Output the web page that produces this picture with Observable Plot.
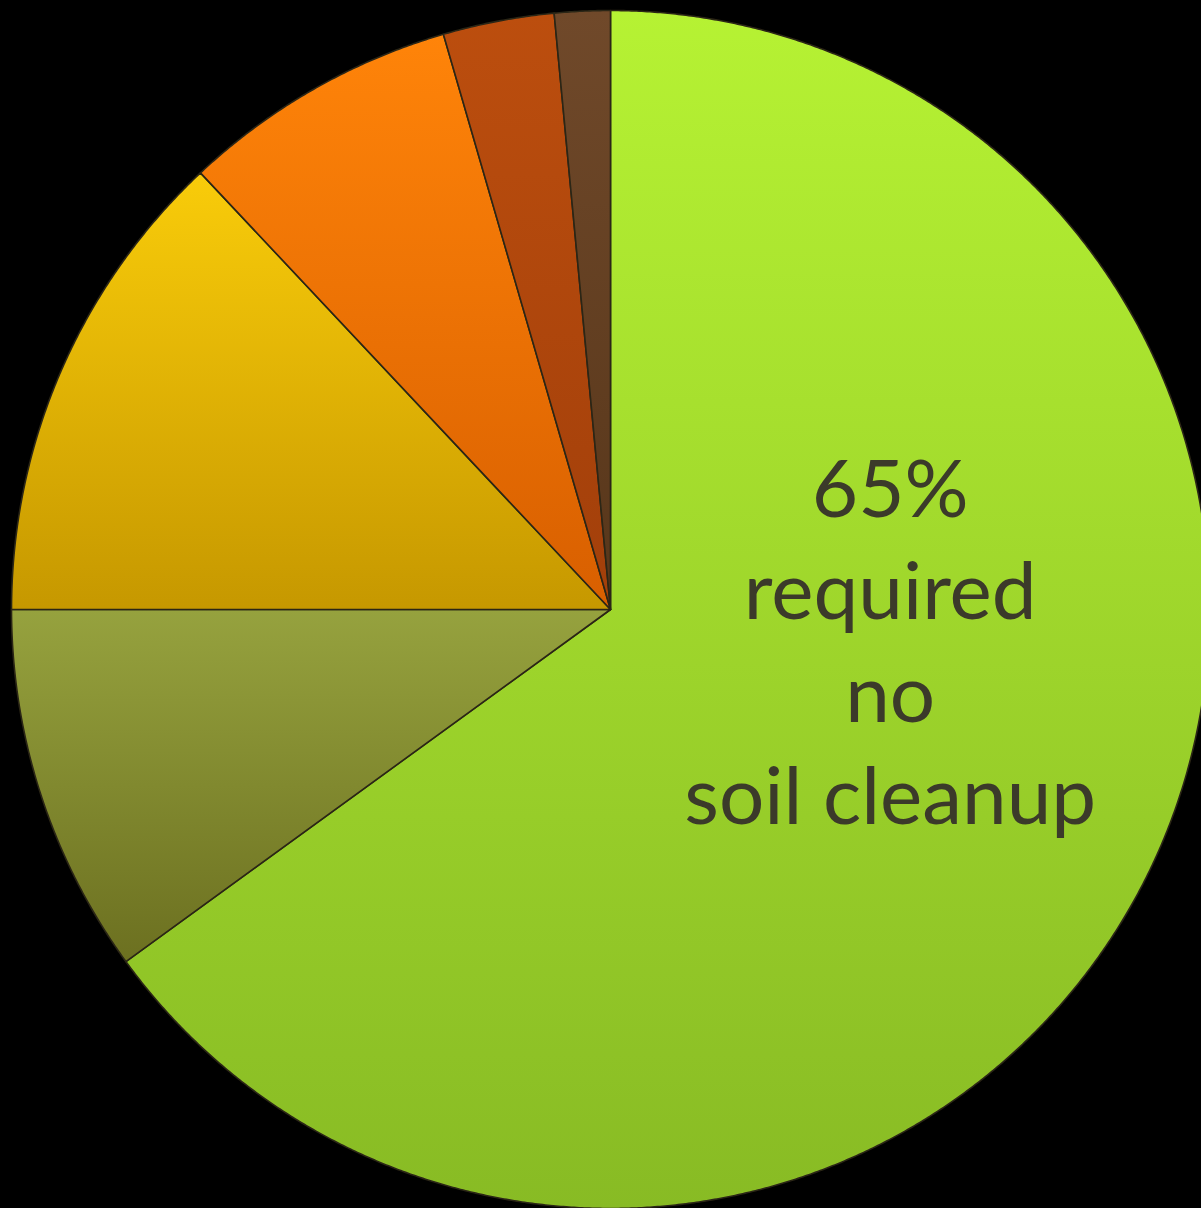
<!DOCTYPE html>
<html>
<head>
<meta charset="utf-8">
<script src="https://cdn.jsdelivr.net/npm/d3@7"></script>
<script src="https://cdn.jsdelivr.net/npm/@observablehq/plot@0.6"></script>
<style>
  html, body { margin: 0; padding: 0; background: #000; }
  #chart svg { display: block; }
</style>
</head>
<body>
<div id="chart"></div>
<script>
// Slices, clockwise from 12 o'clock
const categories = ["No soil cleanup", "Slice 2", "Slice 3", "Slice 4", "Slice 5", "Slice 6"];
const values = [65, 10, 13, 7.5, 3, 1.5];
const topColors = ["#b6f233", "#96a23e", "#f9cc0a", "#ff8409", "#bc4e0e", "#70492a"];
const bottomColors = ["#88bb24", "#6c7020", "#c69800", "#d85f00", "#a23f0a", "#57361a"];
const labelText = "65%\nrequired\nno\nsoil cleanup";

// Build pie geometry from the data (angles in radians, clockwise from north)
const pie = d3.pie().sort(null).value(d => d.value);
const rows = categories.map((c, i) => ({category: c, value: values[i], i}));
const arcs = pie(rows);
const pts = [];
for (const a of arcs) {
  const id = `url(#grad${a.data.i})`;
  pts.push({k: a.data.category, fill: id, x: 0, y: 0});
  const n = Math.max(4, Math.ceil((a.endAngle - a.startAngle) / (Math.PI / 720)));
  for (let j = 0; j <= n; j++) {
    const t = a.startAngle + (a.endAngle - a.startAngle) * j / n;
    pts.push({k: a.data.category, fill: id, x: Math.sin(t), y: Math.cos(t)});
  }
  pts.push({k: a.data.category, fill: id, x: 0, y: 0});
}

// Label placed inside the big slice
const labels = [{x: 0.467, y: -0.047, text: labelText}];

const W = 1201, H = 1208, cx = 610, cy = 609, R = 599;
const chart = Plot.plot({
  width: W,
  height: H,
  margin: 0,
  style: {background: "#000", overflow: "visible"},
  x: {domain: [-cx / R, (W - cx) / R], range: [0, W], axis: null},
  y: {domain: [-(H - cy) / R, cy / R], range: [H, 0], axis: null},
  color: {type: "identity"},
  marks: [
    Plot.line(pts, {x: "x", y: "y", z: "k", fill: "fill", stroke: "#2b2616", strokeWidth: 1.6, strokeLinejoin: "round", curve: "linear"}),
    Plot.text(labels, {x: "x", y: "y", text: "text", fill: "#3b3a2a", fontSize: 80, lineHeight: 1.28, fontFamily: "Lato, 'Open Sans', sans-serif", textAnchor: "middle", frameAnchor: "middle"})
  ]
});

// gradients for the slice fills (per-slice bounding box, top to bottom)
const svg = d3.select(chart);
const defs = svg.insert("defs", ":first-child");
topColors.forEach((c, i) => {
  const g = defs.append("linearGradient")
    .attr("id", `grad${i}`)
    .attr("x1", 0).attr("y1", 0).attr("x2", 0).attr("y2", 1);
  g.append("stop").attr("offset", "0%").attr("stop-color", c);
  g.append("stop").attr("offset", "100%").attr("stop-color", bottomColors[i]);
});
document.getElementById("chart").appendChild(chart);
</script>
</body>
</html>
